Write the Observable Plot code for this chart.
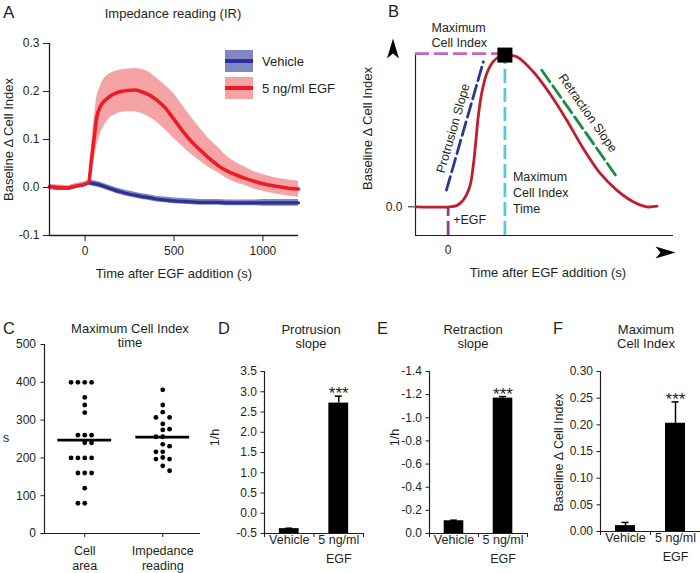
<!DOCTYPE html>
<html><head><meta charset="utf-8">
<script src="https://cdn.jsdelivr.net/npm/d3@7"></script>
<script src="https://cdn.jsdelivr.net/npm/@observablehq/plot@0.6"></script>
<style>
body{margin:0;background:#fff;}
#root{position:relative;width:700px;height:573px;overflow:hidden;background:#fff;}
</style></head><body><div id="root"></div><script>
// ---------- Panel A data: impedance reading time course ----------
const timeS = [-200,-150,-100,-50,0,20,35,50,65,85,110,140,170,200,240,280,320,360,400,450,500,550,600,650,700,750,800,850,900,950,1000,1050,1100,1150,1200];
const egfMean = [0.002,0.000,-0.001,0.003,0.007,0.010,0.055,0.100,0.145,0.168,0.181,0.190,0.196,0.200,0.202,0.203,0.199,0.193,0.183,0.166,0.142,0.117,0.095,0.077,0.060,0.045,0.034,0.026,0.019,0.013,0.008,0.004,0.001,-0.002,-0.003];
const egfUpper = [0.006,0.005,0.004,0.007,0.011,0.015,0.080,0.140,0.185,0.210,0.228,0.237,0.242,0.245,0.247,0.248,0.246,0.240,0.228,0.213,0.195,0.170,0.145,0.122,0.100,0.083,0.064,0.052,0.042,0.033,0.027,0.022,0.018,0.015,0.013];
const egfLower = [-0.003,-0.004,-0.005,-0.001,0.004,0.006,0.030,0.055,0.085,0.110,0.130,0.145,0.152,0.156,0.158,0.158,0.154,0.147,0.137,0.121,0.102,0.085,0.068,0.054,0.041,0.030,0.018,0.010,0.004,-0.003,-0.008,-0.012,-0.015,-0.018,-0.020];
const vehicleMean = [0.001,-0.001,-0.001,0.003,0.007,0.010,0.009,0.008,0.007,0.005,0.002,-0.002,-0.006,-0.009,-0.013,-0.016,-0.019,-0.021,-0.024,-0.026,-0.028,-0.029,-0.030,-0.031,-0.031,-0.031,-0.032,-0.032,-0.032,-0.032,-0.032,-0.032,-0.032,-0.032,-0.032];
const vehicleSem = [0.005,0.005,0.005,0.005,0.005,0.005,0.006,0.006,0.006,0.006,0.006,0.006,0.006,0.006,0.006,0.006,0.006,0.006,0.006,0.006,0.006,0.006,0.006,0.006,0.006,0.006,0.006,0.006,0.006,0.006,0.007,0.007,0.007,0.007,0.007];
const aYTicks = [-0.1,0,0.1,0.2,0.3];
const aXTicks = [0,500,1000];
const aSeries = ["Vehicle","5 ng/ml EGF"];

// ---------- Panel B data: schematic curve (arbitrary units, peak time = 1, max = 1) ----------
const schemT = [-0.56,0.03,0.15,0.265,0.38,0.44,0.49,0.53,0.59,0.68,0.79,0.91,1.0,1.21,1.5,1.79,2.09,2.38,2.68,2.97,3.26,3.5,3.68];
const schemY = [0,0,0.008,0.044,0.132,0.264,0.44,0.593,0.747,0.879,0.956,0.993,1.0,0.989,0.89,0.747,0.571,0.385,0.22,0.11,0.033,0,0.004];
const protrusionT = [-0.03,0.62], protrusionY = [0.11,0.956];
const retractionT = [1.65,2.97], retractionY = [0.90,0.198];
const peakT = 1, peakY = 1, maxLevelY = 1.01, egfT = 0;
const bXDomain = [-0.575,3.97], bYDomain = [-0.189,1.05];

// ---------- Panel C data: time of maximum cell index (s) ----------
const cCategories = ["Cell\narea","Impedance\nreading"];
const cellAreaTimes = [400,400,400,400,360,340,320,260,260,260,240,240,200,200,200,200,160,160,160,120,80,80];
const impedanceTimes = [380,340,321,307,307,290,276,274,256,256,236,231,216,216,201,197,197,179,166];
const cYTicks = [0,100,200,300,400,500];

// ---------- Panels D-F data: bar charts ----------
const barCategories = ["Vehicle","5 ng/ml\nEGF"];
const significance = ["","***"];
const protrusionMean = [-0.38,2.72], protrusionErr = [0.01,0.17];
const dYTicks = [-0.5,0,0.5,1,1.5,2,2.5,3,3.5];
const retractionMean = [-0.11,-1.17], retractionErr = [0.005,0.013];
const eYTicks = [0,-0.2,-0.4,-0.6,-0.8,-1.0,-1.2,-1.4];
const maxIndexMean = [0.011,0.203], maxIndexErr = [0.006,0.040];
const fYTicks = [0,0.05,0.10,0.15,0.20,0.25,0.30];

// ---------- helpers ----------
const FONT = '"Liberation Sans", Arial, Helvetica, sans-serif';
const INK = "#231f20";
const root = document.getElementById("root");
function place(svg, left, top){
  svg.style.position="absolute"; svg.style.left=left+"px"; svg.style.top=top+"px";
  root.appendChild(svg);
}
function pstyle(){ return {fontFamily:FONT, fontSize:"12px", color:INK, background:"transparent", overflow:"visible"}; }
function label(text, x, y, opt={}){
  const size=opt.size??13, lh=opt.lh??1.1, anchor=opt.anchor??"middle";
  const d=document.createElement("div");
  d.textContent=text;
  Object.assign(d.style,{position:"absolute",whiteSpace:"pre",fontFamily:FONT,fontSize:size+"px",lineHeight:String(lh),
    color:INK,top:(y-(lh/2-0.01)*size)+"px",left:x+"px",textAlign:anchor==="middle"?"center":"left",
    transform:anchor==="middle"?"translateX(-50%)":"none"});
  root.appendChild(d); return d;
}
const fmt1 = d => d.toFixed(1), fmt2 = d => d.toFixed(2);

// ================= Panel A =================
const aData = timeS.map((t,i)=>({t, egf:egfMean[i], egfHi:egfUpper[i], egfLo:egfLower[i],
  veh:vehicleMean[i], vehHi:vehicleMean[i]+vehicleSem[i], vehLo:vehicleMean[i]-vehicleSem[i]}));
place(Plot.plot({
  width:310, height:290, marginLeft:49, marginRight:12, marginTop:43, marginBottom:55,
  style:pstyle(),
  x:{domain:[timeS[0], timeS[timeS.length-1]]},
  y:{domain:[aYTicks[0], aYTicks[aYTicks.length-1]]},
  marks:[
    Plot.areaY(aData,{x:"t",y1:"vehLo",y2:"vehHi",fill:"#7f87c6",curve:"monotone-x"}),
    Plot.lineY(aData,{x:"t",y:"veh",stroke:"#2e3192",strokeWidth:3.2,curve:"monotone-x"}),
    Plot.areaY(aData,{x:"t",y1:"egfLo",y2:"egfHi",fill:"#f5a3a5",curve:"monotone-x"}),
    Plot.lineY(aData,{x:"t",y:"egf",stroke:"#ed1c24",strokeWidth:3.6,curve:"monotone-x"}),
    Plot.ruleX([timeS[0]],{stroke:INK,strokeWidth:1.3}),
    Plot.ruleY([aYTicks[0]],{stroke:INK,strokeWidth:1.3}),
    Plot.axisY({ticks:aYTicks,tickFormat:fmt1,tickSize:6,tickPadding:4,label:null,fontSize:12}),
    Plot.axisX({ticks:aXTicks,tickFormat:d=>String(d),tickSize:6,tickPadding:5,label:null,fontSize:12}),
    Plot.text(["Time after EGF addition (s)"],{text:d=>d,frameAnchor:"bottom",dy:38,fontSize:13,lineAnchor:"middle",textAnchor:"middle"}),
    Plot.text(["Baseline \u0394 Cell Index"],{text:d=>d,frameAnchor:"left",dx:-41,rotate:-90,fontSize:13,lineAnchor:"middle",textAnchor:"middle"})
  ]
}),0,0);
label("A",3,12,{size:17,anchor:"start",lh:1});
label("Impedance reading (IR)",173,13,{size:13,lh:1});
// legend
[["#7f87c6","#2e3192"],["#f5a3a5","#ed1c24"]].forEach(([bg,ln],i)=>{
  const sw=document.createElement("div");
  Object.assign(sw.style,{position:"absolute",left:"225px",top:(50+27*i)+"px",width:"28px",height:"22px",background:bg});
  const l=document.createElement("div");
  Object.assign(l.style,{position:"absolute",left:"0",top:"9px",width:"28px",height:"4px",background:ln});
  sw.appendChild(l); root.appendChild(sw);
  label(aSeries[i],262,61+27*i,{size:13,anchor:"start",lh:1});
});

// ================= Panel B =================
const bCurve = schemT.map((t,i)=>({t,y:schemY[i]}));
const protr = protrusionT.map((t,i)=>({t,y:protrusionY[i]}));
const retr = retractionT.map((t,i)=>({t,y:retractionY[i]}));
const arrowRight = {draw(ctx,size){const k=Math.sqrt(size)/20;
  ctx.moveTo(10*k,0);ctx.lineTo(-10*k,-6*k);ctx.lineTo(-5*k,0);ctx.lineTo(-10*k,6*k);ctx.closePath();}};
const arrowUp = {draw(ctx,size){const k=Math.sqrt(size)/20;
  ctx.moveTo(0,-10*k);ctx.lineTo(-6*k,10*k);ctx.lineTo(0,5*k);ctx.lineTo(6*k,10*k);ctx.closePath();}};
const dash = {strokeWidth:2.8, strokeDasharray:"14,5"};
const midOf = (ts,ys)=>[{t:d3.mean(ts),y:d3.mean(ys)}];
place(Plot.plot({
  width:350, height:290, marginLeft:65, marginRight:27, marginTop:47, marginBottom:55,
  style:pstyle(),
  x:{domain:bXDomain}, y:{domain:bYDomain},
  marks:[
    Plot.ruleY([bYDomain[0]],{stroke:INK,strokeWidth:1.2}),
    Plot.ruleX([bXDomain[0]],{y1:bYDomain[0],y2:maxLevelY,stroke:INK,strokeWidth:1.2}),
    Plot.ruleY([maxLevelY],{x1:bXDomain[0],x2:peakT,stroke:"#c864be",...dash}),
    Plot.ruleX([egfT],{y1:bYDomain[0],y2:0,stroke:"#8e3f96",...dash}),
    Plot.ruleX([peakT],{y1:bYDomain[0],y2:peakY,stroke:"#5cc6dd",...dash}),
    Plot.line(protr,{x:"t",y:"y",stroke:"#2b3990",...dash}),
    Plot.line(retr,{x:"t",y:"y",stroke:"#1a8a46",...dash}),
    Plot.line(bCurve,{x:"t",y:"y",stroke:"#be1e2d",strokeWidth:2.8,curve:"catmull-rom"}),
    Plot.dot([{t:peakT,y:peakY}],{x:"t",y:"y",symbol:"square",r:8.5,fill:"black"}),
    Plot.axisY({ticks:[0],tickFormat:()=>"0.0",tickSize:7,tickPadding:6,label:null,fontSize:12}),
    Plot.axisX({ticks:[egfT],tickFormat:()=>"0",tickSize:0,tickPadding:10,label:null,fontSize:12}),
    Plot.dot([0],{frameAnchor:"top-left",dx:-22.5,dy:1,symbol:arrowUp,r:11.3,fill:"black"}),
    Plot.dot([0],{frameAnchor:"bottom-right",dx:-8,dy:17,symbol:arrowRight,r:11.3,fill:"black"}),
    Plot.text([{t:bXDomain[0],y:maxLevelY}],{x:"t",y:"y",text:()=>"Maximum\nCell Index",textAnchor:"start",lineAnchor:"middle",dx:16,dy:-19,lineHeight:1.22,fontSize:12.5}),
    Plot.text([{t:peakT,y:0}],{x:"t",y:"y",text:()=>"Maximum\nCell Index\nTime",textAnchor:"start",lineAnchor:"middle",dx:8,dy:-15,lineHeight:1.27,fontSize:12.5}),
    Plot.text([{t:egfT,y:0}],{x:"t",y:"y",text:()=>"+EGF",textAnchor:"start",lineAnchor:"middle",dx:5,dy:13.5,fontSize:12.5}),
    Plot.text(midOf(protrusionT,protrusionY),{x:"t",y:"y",text:()=>"Protrusion Slope",rotate:-74,dx:-11.7,dy:2.4,lineAnchor:"middle",textAnchor:"middle",fontSize:12.5}),
    Plot.text(midOf(retractionT,retractionY),{x:"t",y:"y",text:()=>"Retraction Slope",rotate:55,dx:8.5,dy:-10.5,lineAnchor:"middle",textAnchor:"middle",fontSize:12.5}),
    Plot.text(["Time after EGF addition (s)"],{text:d=>d,frameAnchor:"bottom",dx:3.5,dy:37,fontSize:13,lineAnchor:"middle",textAnchor:"middle"}),
    Plot.text(["Baseline \u0394 Cell Index"],{text:d=>d,frameAnchor:"left",dx:-47.5,dy:-13,rotate:-90,fontSize:13,lineAnchor:"middle",textAnchor:"middle"})
  ]
}),350,0);
label("B",388,11,{size:16.5,anchor:"start",lh:1});

// ================= Panel C =================
function slotLayout(values,tol){
  const sorted=values.slice().sort((a,b)=>b-a);
  const placed=[], count=new Map();
  const free=(s,v)=>placed.every(p=>p.slot!==s||Math.abs(p.v-v)>=tol);
  for(const v of sorted){
    let slot=0;
    if(!free(0,v)){
      for(let k=1;k<10;k++){
        const a=free(k,v), b=free(-k,v);
        if(a&&b){slot=(k===1&&(count.get(k)||0)<=(count.get(-k)||0))?k:-k;break;}
        if(a){slot=k;break;}
        if(b){slot=-k;break;}
      }
    }
    count.set(slot,(count.get(slot)||0)+1);
    placed.push({v,slot});
  }
  return placed;
}
const cGroups=[cellAreaTimes,impedanceTimes];
const cDots=cGroups.flatMap((vals,i)=>slotLayout(vals,14.5).map(p=>({i,v:p.v,slot:p.slot})));
const cMeans=cGroups.map((vals,i)=>({i,mean:d3.mean(vals)}));
const slotStep=0.0877, meanHalf=0.345;
place(Plot.plot({
  width:205, height:273, marginLeft:44, marginRight:5, marginTop:44, marginBottom:40,
  style:pstyle(),
  x:{domain:[-0.516,1.484]}, y:{domain:[cYTicks[0],cYTicks[cYTicks.length-1]]},
  marks:[
    Plot.ruleX([-0.516],{stroke:INK,strokeWidth:1.2}),
    Plot.ruleY([0],{stroke:INK,strokeWidth:1.2}),
    Plot.dot(cDots,{x:d=>d.i+d.slot*slotStep,y:"v",r:2.4,fill:"black"}),
    Plot.ruleY(cMeans,{y:"mean",x1:d=>d.i-meanHalf,x2:d=>d.i+meanHalf,stroke:"black",strokeWidth:2.7}),
    Plot.axisY({ticks:cYTicks,tickFormat:d=>String(d),tickSize:3.5,tickPadding:5,label:null,fontSize:12}),
    Plot.axisX({ticks:[0,1],tickFormat:i=>cCategories[i],tickSize:4,tickPadding:6.5,label:null,fontSize:12.5,lineHeight:1.2}),
    Plot.text(["s"],{text:d=>d,frameAnchor:"left",dx:-38.5,dy:-1.5,fontSize:12.5,lineAnchor:"middle",textAnchor:"middle"})
  ]
}),0,300);
label("C",3,328,{size:16.5,anchor:"start",lh:1});
label("Maximum Cell Index\ntime",130,329,{size:13,lh:1.08});

// ================= Panels D-F =================
function barPanel({means,errs,ticks,fmt,baseline,left,width,ml,mr,mb,ylab,ylabDx,ylabDy}){
  const rows=means.map((m,i)=>({i,m,e:errs[i],sig:significance[i]}));
  rows.forEach(r=>{r.tip = r.m<0 && baseline===0 ? r.m-r.e : r.m+r.e;});
  const half=0.2, cap=0.07;
  place(Plot.plot({
    width, height:273, marginLeft:ml, marginRight:mr, marginTop:71, marginBottom:mb,
    style:pstyle(),
    x:{domain:[-0.5,1.5]}, y:{domain:[ticks[0],ticks[ticks.length-1]]},
    marks:[
      Plot.rect(rows,{x1:d=>d.i-half,x2:d=>d.i+half,y1:baseline,y2:"m",fill:"black"}),
      Plot.ruleX(rows,{x:"i",y1:"m",y2:"tip",stroke:"black",strokeWidth:1.5}),
      Plot.ruleY(rows,{y:"tip",x1:d=>d.i-cap,x2:d=>d.i+cap,stroke:"black",strokeWidth:1.5}),
      Plot.text(rows,{x:"i",y:"tip",text:"sig",dy:-2.5,fontSize:17,lineAnchor:"middle"}),
      Plot.ruleX([-0.5],{stroke:INK,strokeWidth:1.2}),
      Plot.ruleY([ticks[0]],{stroke:INK,strokeWidth:1.2}),
      Plot.axisY({ticks,tickFormat:fmt,tickSize:3.5,tickPadding:4,label:null,fontSize:12}),
      Plot.axisX({ticks:[-0.5,0.5,1.5],tickFormat:()=>"",tickSize:4,label:null}),
      Plot.axisX({ticks:[0,1],tickFormat:i=>barCategories[i],tickSize:0,tickPadding:-2.5,label:null,fontSize:12.5,lineHeight:1.5}),
      Plot.text([ylab],{text:d=>d,frameAnchor:"left",dx:ylabDx,dy:ylabDy,rotate:-90,fontSize:12.5,lineAnchor:"middle",textAnchor:"middle"})
    ]
  }),left,300);
}
barPanel({means:protrusionMean,errs:protrusionErr,ticks:dYTicks,fmt:fmt1,baseline:dYTicks[0],left:200,width:170,ml:64,mr:7,mb:40,ylab:"1/h",ylabDx:-49.5,ylabDy:-15});
barPanel({means:retractionMean,errs:retractionErr,ticks:eYTicks,fmt:fmt1,baseline:0,left:370,width:160,ml:59,mr:3,mb:40,ylab:"1/h",ylabDx:-34.5,ylabDy:-15});
barPanel({means:maxIndexMean,errs:maxIndexErr,ticks:fYTicks,fmt:fmt2,baseline:0,left:530,width:170,ml:70,mr:0,mb:42,ylab:"Baseline \u0394 Cell Index",ylabDx:-42,ylabDy:1});
label("D",218,328,{size:16.5,anchor:"start",lh:1});
label("E",377,328,{size:16.5,anchor:"start",lh:1});
label("F",553,328,{size:16.5,anchor:"start",lh:1});
label("Protrusion\nslope",311,330,{size:13,lh:1.1});
label("Retraction\nslope",473,330,{size:13,lh:1.1});
label("Maximum\nCell Index",646,330,{size:13,lh:1.1});
</script></body></html>
